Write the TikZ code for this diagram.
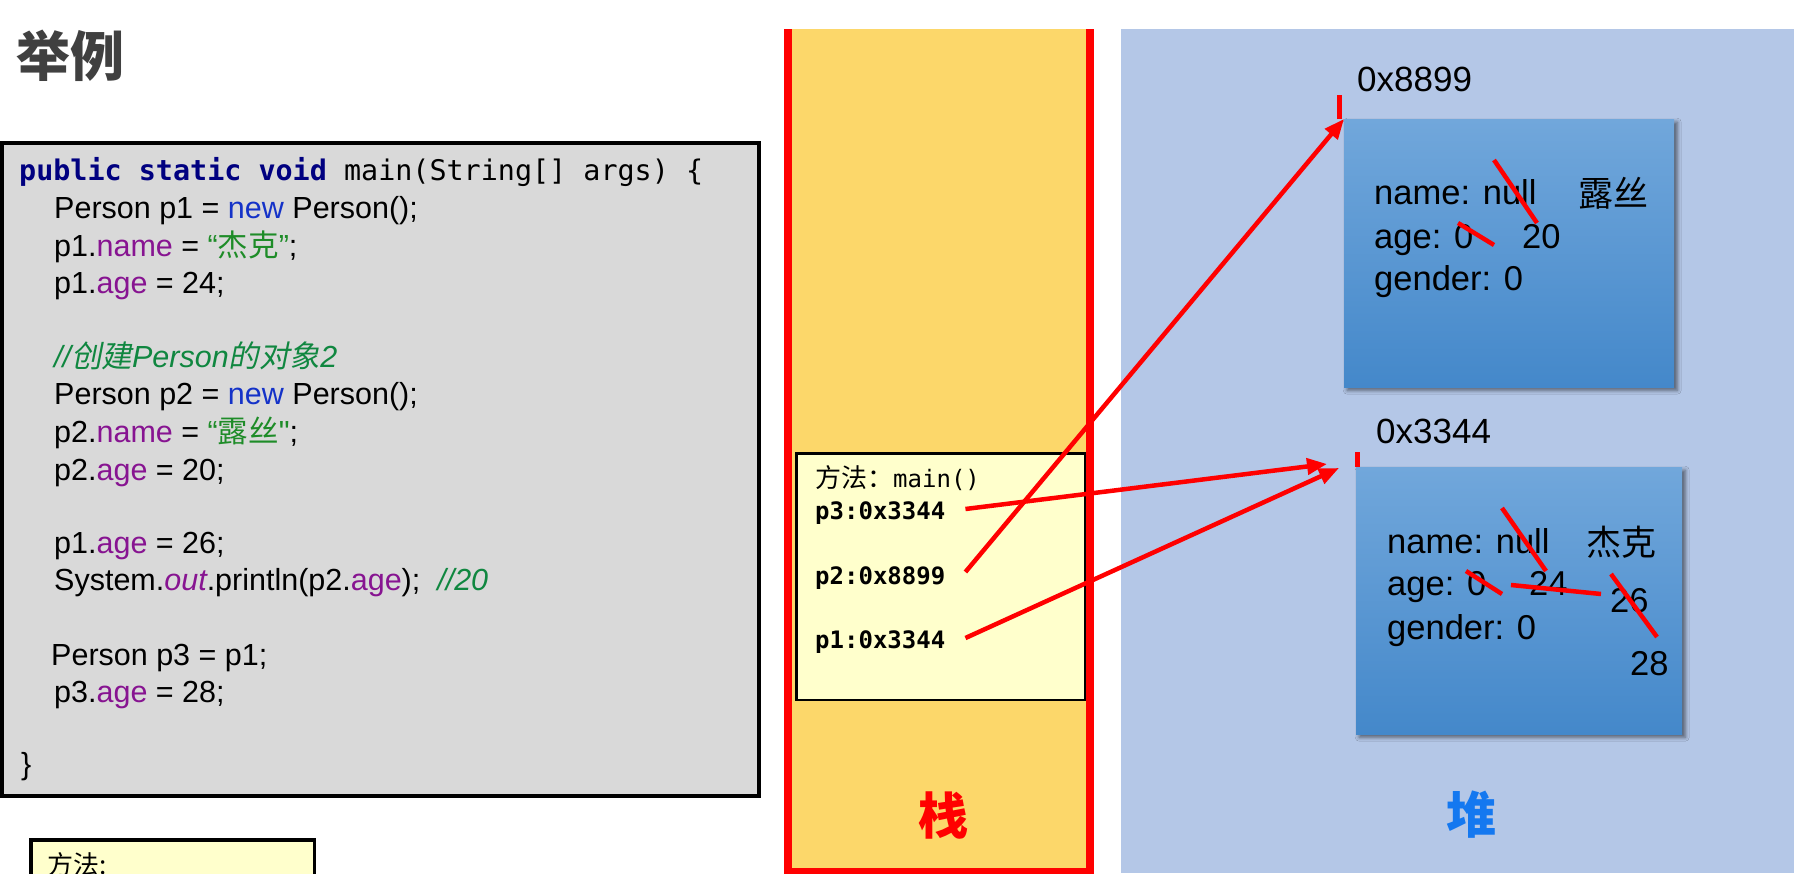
\documentclass[tikz,border=0pt]{standalone}
\usepackage{fontspec}
\setmainfont{Liberation Sans}
\newfontfamily\rawsans{Liberation Sans}
\newfontfamily\cjk{Noto Sans CJK SC}
\newfontfamily\cjkslant{Noto Sans CJK SC}[FakeSlant=0.2]
\newfontfamily\mono{DejaVu Sans Mono}
\usetikzlibrary{arrows.meta,shadows.blur}

\definecolor{stackyellow}{RGB}{252,215,106}
\definecolor{heapblue}{RGB}{180,199,231}
\definecolor{codegray}{RGB}{217,217,217}
\definecolor{memo}{RGB}{255,255,204}
\definecolor{kwnavy}{RGB}{0,0,128}
\definecolor{kwblue}{RGB}{20,50,200}
\definecolor{fieldpurple}{RGB}{135,20,145}
\definecolor{strgreen}{RGB}{30,140,40}
\definecolor{cmtgreen}{RGB}{16,135,64}
\definecolor{titlegray}{RGB}{64,64,64}
\definecolor{objtop}{RGB}{113,167,219}
\definecolor{objbot}{RGB}{68,136,202}
\definecolor{heaplabel}{RGB}{20,120,240}

% Java syntax colouring helpers
\newcommand{\jnew}[1]{\textcolor{kwblue}{#1}}
\newcommand{\jfield}[1]{\textcolor{fieldpurple}{#1}}
\newcommand{\jstr}[1]{\textcolor{strgreen}{#1}}
\newcommand{\jcmt}[1]{\textcolor{cmtgreen}{\itshape #1}}

\tikzset{
  codeline/.style={anchor=base west, inner sep=0pt, font=\fontsize{30.5}{36}\selectfont},
  stackvar/.style={anchor=base west, inner sep=0pt, font=\mono\bfseries\fontsize{24}{28}\selectfont},
  field/.style={anchor=base west, inner sep=0pt, font=\fontsize{34.5}{40}\selectfont},
  cjkval/.style={anchor=base west, inner sep=0pt, font=\cjk\fontsize{35}{40}\selectfont},
  addr/.style={anchor=base west, inner sep=0pt, font=\fontsize{35}{40}\selectfont},
  memobox/.style={draw=black, fill=memo, anchor=north west, inner sep=0pt},
  objbox/.style={anchor=north west, inner sep=0pt, top color=objtop, bottom color=objbot,
    blur shadow={shadow xshift=3pt, shadow yshift=-3pt, shadow blur radius=4pt, shadow opacity=55}},
  ref/.style={red, line width=4.5pt, -{Triangle[length=20pt,width=16pt]}},
  strike/.style={red, line width=4.5pt},
  tick/.style={red, line width=5pt},
}

\begin{document}
\begin{tikzpicture}[x=1pt,y=-1pt]
\useasboundingbox (0,0) rectangle (1794,873);
\clip (0,0) rectangle (1794,873);

% title
\node[anchor=base west, inner sep=0pt, text=titlegray, font=\cjk\bfseries\fontsize{54}{60}\selectfont] (title) at (16,76) {举例};

% source code panel
\node[memobox, line width=3.5pt, fill=codegray, minimum width=757pt, minimum height=653pt] (codebox) at (0,141) {};
\node[codeline] (l1) at (19,180) {\mono\fontsize{28.4}{34}\selectfont\textcolor{kwnavy}{\bfseries public static void} main(String[] args) \{};
\node[codeline] (l2) at (54,218) {Person p1 = \jnew{new} Person();};
\node[codeline] (l3) at (54,256) {p1.\jfield{name} = \jstr{“{\cjk 杰克}”};};
\node[codeline] (l4) at (54,293) {p1.\jfield{age} = 24;};
\node[codeline] (l5) at (54,367) {\jcmt{//{\cjkslant 创建}Person{\cjkslant 的对象}2}};
\node[codeline] (l6) at (54,404) {Person p2 = \jnew{new} Person();};
\node[codeline] (l7) at (54,442) {p2.\jfield{name} = \jstr{“{\cjk 露丝}{\rawsans "}};};
\node[codeline] (l8) at (54,480) {p2.\jfield{age} = 20;};
\node[codeline] (l9) at (54,553) {p1.\jfield{age} = 26;};
\node[codeline] (l10) at (54,590) {System.\jfield{\itshape out}.println(p2.\jfield{age});\ \ \jcmt{//20}};
\node[codeline] (l11) at (51,665) {Person p3 = p1;};
\node[codeline] (l12) at (54,702) {p3.\jfield{age} = 28;};
\node[codeline] (l13) at (21,774) {\}};

% method area box (lower left)
\node[memobox, line width=3.5pt, minimum width=283.5pt, minimum height=80pt] (methodarea) at (29,838) {};
\node[anchor=base west, inner sep=0pt, font=\cjk\fontsize{26}{30}\selectfont] (methodlabel) at (47,874) {方法:};

% stack column
\fill[stackyellow] (788,29) rectangle (1090,873);
\draw[red, line width=8pt, line join=miter] (788,29) -- (788,871.5) -- (1090,871.5) -- (1090,29);
\node[text=red, font=\cjk\bfseries\fontsize{50}{56}\selectfont] (stacklabel) at (943,816) {栈};

% heap column
\fill[heapblue] (1121,29) rectangle (1794,873);
\node[text=heaplabel, font=\cjk\bfseries\fontsize{50}{56}\selectfont] (heaplabel) at (1471,815) {堆};

% stack frame of main()
\node[memobox, line width=2.5pt, minimum width=288.5pt, minimum height=246.5pt] (frame) at (795,452) {};
\node[anchor=base west, inner sep=0pt] (mname) at (815,487) {{\cjk\fontsize{26}{30}\selectfont 方法：}{\mono\fontsize{24}{28}\selectfont main()}};
\node[stackvar] (p3) at (815,519) {p3:0x3344};
\node[stackvar] (p2) at (815,584) {p2:0x8899};
\node[stackvar] (p1) at (815,648) {p1:0x3344};

% heap objects
\node[objbox, minimum width=330pt, minimum height=268pt] (obj1) at (1344,119) {};
\node[objbox, minimum width=326pt, minimum height=267pt] (obj2) at (1356,467) {};

\node[addr] (addr1) at (1357,91) {0x8899};
\node[addr] (addr2) at (1376,443) {0x3344};
\draw[tick] ([xshift=-4.5pt]obj1.north west) -- ++(0,-24);
\draw[tick] ([xshift=1pt]obj2.north west) -- ++(0,-15);

% fields of the object at 0x8899
\node[field] (o1name) at (1374,204) {name: null};
\node[field] (o1age) at (1374,248) {age: 0};
\node[field] (o1gender) at (1374,290) {gender: 0};
\node[cjkval] (o1nameval) at (1578,206) {露丝};
\node[field] (o1ageval) at (1522,248) {20};
\draw[strike] (1494,160) -- (1537,223);
\draw[strike] (1458,223) -- (1494,245);

% fields of the object at 0x3344
\node[field] (o2name) at (1387,553) {name: null};
\node[field] (o2age) at (1387,595) {age: 0};
\node[field] (o2gender) at (1387,639) {gender: 0};
\node[cjkval] (o2nameval) at (1586,555) {杰克};
\node[field] (o2age24) at (1529,595) {24};
\node[field] (o2age26) at (1610,612) {26};
\node[field] (o2age28) at (1630,675) {28};
\draw[strike] (1502,508) -- (1546,571);
\draw[strike] (1466,571) -- (1502,594);
\draw[strike] (1511,585) -- (1601,594);
\draw[strike] (1611,574) -- (1657,637);

% references from the stack into the heap
\coordinate (in3) at (1327,464);
\coordinate (in1) at (1339,468);
\draw[ref] ([xshift=20pt,yshift=10pt]p3.base east) -- (in3);
\draw[ref] ([xshift=20pt,yshift=12pt]p2.base east) -- (obj1.north west);
\draw[ref] ([xshift=20pt,yshift=10pt]p1.base east) -- (in1);
\end{tikzpicture}
\end{document}
